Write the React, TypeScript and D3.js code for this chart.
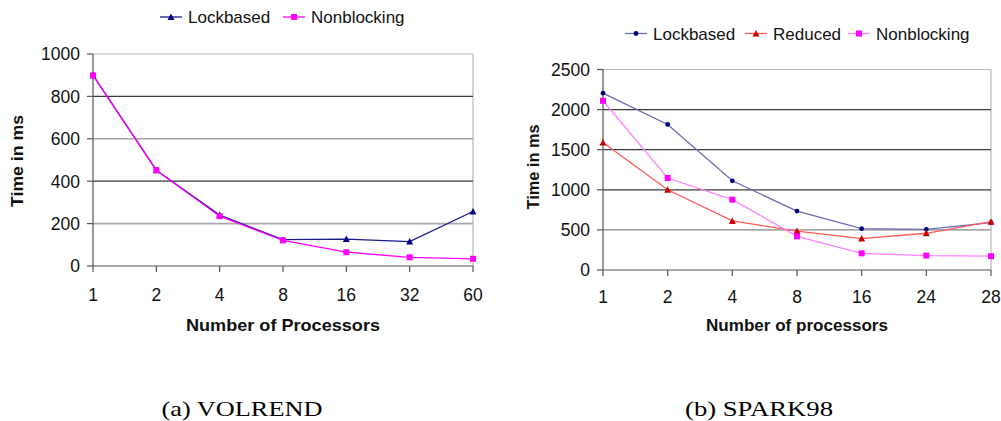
import React from "react";
import * as d3 from "d3";

// ---------- data ----------
const volrendCategories = ["1", "2", "4", "8", "16", "32", "60"];
const volrendLockbased = [900, 452, 240, 124, 127, 115, 257];
const volrendNonblocking = [899, 452, 235, 121, 65, 41, 34];
const volrendTicks = [0, 200, 400, 600, 800, 1000];

const sparkCategories = ["1", "2", "4", "8", "16", "24", "28"];
const sparkLockbased = [2205, 1815, 1112, 735, 515, 507, 590];
const sparkReduced = [1590, 1000, 612, 486, 392, 458, 602];
const sparkNonblocking = [2110, 1147, 877, 420, 208, 180, 172];
const sparkTicks = [0, 500, 1000, 1500, 2000, 2500];

const FONT = "'Liberation Sans', Arial, sans-serif";
const SERIF = "'Liberation Serif', 'DejaVu Serif', serif";

type Series = {
  name: string;
  values: number[];
  line: string;
  marker: string;
  shape: "triangle" | "square" | "dot";
};

function Marker({ x, y, shape, color }: { x: number; y: number; shape: string; color: string }) {
  if (shape === "square") return <rect x={x - 3} y={y - 3} width={6} height={6} fill={color} />;
  if (shape === "triangle")
    return <path d={`M${x},${y - 3.5}L${x + 3.5},${y + 3}L${x - 3.5},${y + 3}Z`} fill={color} />;
  return <circle cx={x} cy={y} r={2.4} fill={color} />;
}

function Chart(props: {
  categories: string[];
  series: Series[];
  ticks: number[];
  yMax: number;
  x0: number;
  x1: number;
  yTop: number;
  yBottom: number;
  darkGrid: number[];
  yTitleX: number;
  yTitleY: number;
  yTitleLen: number;
  xTitle: string;
  xTitleX: number;
  xTitleLen: number;
  legendY: number;
  legendX: number[];
  xLabelY: number;
}) {
  const p = props;
  const x = d3.scalePoint<string>().domain(p.categories).range([p.x0, p.x1]).padding(0);
  const y = d3.scaleLinear().domain([0, p.yMax]).range([p.yBottom, p.yTop]);
  const line = d3
    .line<number>()
    .x((_, i) => x(p.categories[i]) as number)
    .y((d) => y(d));
  return (
    <g>
      {/* plot border top & right */}
      <line x1={p.x0} x2={p.x1} y1={y(p.yMax)} y2={y(p.yMax)} stroke="#b8b8b8" strokeWidth={1.2} />
      <line x1={p.x1} x2={p.x1} y1={y(p.yMax)} y2={p.yBottom} stroke="#b8b8b8" strokeWidth={1.2} />
      {/* gridlines */}
      {p.ticks
        .filter((t) => t > 0 && t < p.yMax)
        .map((t) => (
          <line
            key={t}
            x1={p.x0}
            x2={p.x1}
            y1={y(t)}
            y2={y(t)}
            stroke={p.darkGrid.includes(t) ? "#3a3a3a" : "#a8a8a8"}
            strokeWidth={p.darkGrid.includes(t) ? 1.2 : 1.6}
          />
        ))}
      {/* axes */}
      <line x1={p.x0} x2={p.x0} y1={p.yTop} y2={p.yBottom} stroke="#555" strokeWidth={1.2} />
      <line x1={p.x0} x2={p.x1} y1={p.yBottom} y2={p.yBottom} stroke="#555" strokeWidth={1.2} />
      {p.ticks.map((t) => (
        <g key={t}>
          <line x1={p.x0 - 6} x2={p.x0} y1={y(t)} y2={y(t)} stroke="#555" strokeWidth={1.2} />
          <text
            x={p.x0 - 13}
            y={y(t)}
            dy="0.36em"
            textAnchor="end"
            fontFamily={FONT}
            fontSize={17.5}
            fill="#111"
          >
            {t}
          </text>
        </g>
      ))}
      {p.categories.map((c) => (
        <g key={c}>
          <line
            x1={x(c)}
            x2={x(c)}
            y1={p.yBottom}
            y2={p.yBottom + 6}
            stroke="#555"
            strokeWidth={1.2}
          />
          <text
            x={x(c)}
            y={p.xLabelY}
            dy="0.36em"
            textAnchor="middle"
            fontFamily={FONT}
            fontSize={17.5}
            fill="#111"
          >
            {c}
          </text>
        </g>
      ))}
      {/* series */}
      {p.series.map((s) => (
        <g key={s.name}>
          <path d={line(s.values) as string} fill="none" stroke={s.line} strokeWidth={1.3} />
          {s.values.map((v, i) => (
            <Marker key={i} x={x(p.categories[i]) as number} y={y(v)} shape={s.shape} color={s.marker} />
          ))}
        </g>
      ))}
      {/* axis titles */}
      <text
        transform={`translate(${p.yTitleX},${p.yTitleY}) rotate(-90)`}
        textAnchor="middle"
        dy="0.36em"
        fontFamily={FONT}
        fontWeight="bold"
        fontSize={16.5}
        textLength={p.yTitleLen}
        lengthAdjust="spacingAndGlyphs"
        fill="#111"
      >
        Time in ms
      </text>
      <text
        x={p.xTitleX}
        y={331}
        textAnchor="middle"
        fontFamily={FONT}
        fontWeight="bold"
        fontSize={16.5}
        textLength={p.xTitleLen}
        lengthAdjust="spacingAndGlyphs"
        fill="#111"
      >
        {p.xTitle}
      </text>
      {/* legend */}
      {p.series.map((s, i) => (
        <g key={s.name}>
          <line
            x1={p.legendX[i]}
            x2={p.legendX[i] + 22}
            y1={p.legendY}
            y2={p.legendY}
            stroke={s.line}
            strokeWidth={1.3}
          />
          <Marker x={p.legendX[i] + 11} y={p.legendY} shape={s.shape} color={s.marker} />
          <text
            x={p.legendX[i] + 28}
            y={p.legendY}
            dy="0.36em"
            fontFamily={FONT}
            fontSize={17}
            fill="#111"
          >
            {s.name}
          </text>
        </g>
      ))}
    </g>
  );
}

export default function App() {
  const leftSeries: Series[] = [
    { name: "Lockbased", values: volrendLockbased, line: "#1a1a8c", marker: "#000080", shape: "triangle" },
    { name: "Nonblocking", values: volrendNonblocking, line: "#ff00ff", marker: "#ff00ff", shape: "square" },
  ];
  const rightSeries: Series[] = [
    { name: "Lockbased", values: sparkLockbased, line: "#6a6ab4", marker: "#000080", shape: "dot" },
    { name: "Reduced", values: sparkReduced, line: "#ff5a5a", marker: "#cc0000", shape: "triangle" },
    { name: "Nonblocking", values: sparkNonblocking, line: "#ff80ff", marker: "#ff00ff", shape: "square" },
  ];
  return (
    <svg
      width={1001}
      height={421}
      style={{ position: "absolute", left: 0, top: 0, background: "#fff" }}
    >
      <rect width={1001} height={421} fill="#fff" />
      <Chart
        categories={volrendCategories}
        series={leftSeries}
        ticks={volrendTicks}
        yMax={1000}
        x0={93}
        x1={473}
        yTop={54}
        yBottom={266}
        darkGrid={[800, 400]}
        yTitleX={17}
        yTitleY={161}
        yTitleLen={92}
        xTitle="Number of Processors"
        xTitleX={283}
        xTitleLen={194}
        legendY={17}
        legendX={[160, 283]}
        xLabelY={295}
      />
      <Chart
        categories={sparkCategories}
        series={rightSeries}
        ticks={sparkTicks}
        yMax={2500}
        x0={603}
        x1={991}
        yTop={69.5}
        yBottom={270}
        darkGrid={[2000, 1500, 1000]}
        yTitleX={533}
        yTitleY={167}
        yTitleLen={85}
        xTitle="Number of processors"
        xTitleX={797}
        xTitleLen={182}
        legendY={33.5}
        legendX={[625, 745, 848]}
        xLabelY={297}
      />
      <text x={242} y={416} textAnchor="middle" fontFamily={SERIF} fontSize={21} textLength={161} lengthAdjust="spacingAndGlyphs" fill="#000">
        (a) VOLREND
      </text>
      <text x={759} y={416} textAnchor="middle" fontFamily={SERIF} fontSize={21} textLength={148} lengthAdjust="spacingAndGlyphs" fill="#000">
        (b) SPARK98
      </text>
    </svg>
  );
}
